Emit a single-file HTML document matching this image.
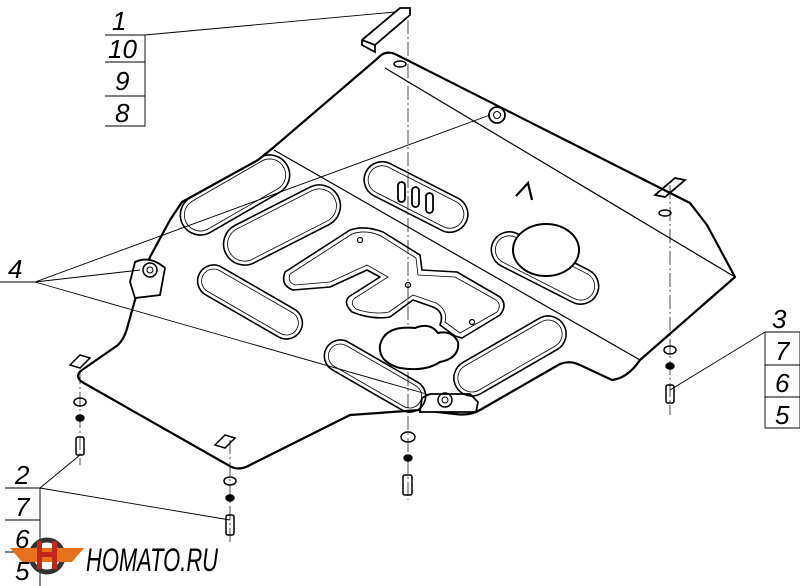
<!DOCTYPE html>
<html><head><meta charset="utf-8"><style>
html,body{margin:0;padding:0;background:#fff;width:800px;height:586px;overflow:hidden}
svg{display:block}
text{font-family:"Liberation Sans",sans-serif;font-style:italic;fill:#000}
</style></head><body>
<svg width="800" height="586" viewBox="0 0 800 586" xmlns="http://www.w3.org/2000/svg">
<defs>
<clipPath id="pl"><path d="M378,58 Q385,50 395,54 L690,203 L707,225 L735,277 L640,360 Q628,378 612,380 L580,365 Q570,360 560,364 L480,410 Q470,416 455,414 L420,410 L350,415 L250,465 Q238,472 228,465 L82,382 Q74,376 82,370 L118,345 Q125,338 128,325 L135,300 Q140,285 150,257 L170,220 L182,202 L258,160 L274,147 Z"/></clipPath>
</defs>
<g fill="none" stroke="#000">
<line x1="408" y1="20" x2="408" y2="500" stroke-width="0.7" stroke-dasharray="14 3 2 3"/>
<line x1="670" y1="185" x2="670" y2="415" stroke-width="0.7" stroke-dasharray="14 3 2 3"/>
<line x1="80" y1="370" x2="80" y2="465" stroke-width="0.7" stroke-dasharray="14 3 2 3"/>
<line x1="230" y1="440" x2="230" y2="545" stroke-width="0.7" stroke-dasharray="14 3 2 3"/>

<path stroke-width="2.2" stroke-linejoin="round" d="M378,58 Q385,50 395,54 L690,203 L707,225 L735,277 L640,360 Q628,378 612,380 L580,365 Q570,360 560,364 L480,410 Q470,416 455,414 L420,410 L350,415 L250,465 Q238,472 228,465 L82,382 Q74,376 82,370 L118,345 Q125,338 128,325 L135,300 Q140,285 150,257 L170,220 L182,202 L258,160 L274,147 Z"/>
<path stroke-width="1.2" d="M385,68 L735,277 M274,150 L640,360"/>
<!-- left tab -->
<path stroke-width="1.8" fill="#fff" d="M130,282 L135,262 Q150,255 165,268 L160,295 L135,298 Z"/>
<circle cx="150" cy="270" r="7" stroke-width="1.5"/><circle cx="150" cy="270" r="3" stroke-width="1"/>
<!-- bottom tab -->
<path stroke-width="1.8" fill="#fff" d="M420,412 L422,398 L430,394 L470,394 L478,402 L476,412 Z"/>
<circle cx="445" cy="400" r="7" stroke-width="1.5"/><circle cx="445" cy="400" r="3" stroke-width="1"/>
<circle cx="497" cy="115" r="8" stroke-width="1.8"/><circle cx="497" cy="115" r="3.5" stroke-width="1"/>
<g stroke-width="1.6">
<g clip-path="url(#pl)">
<rect x="-60" y="-20" width="120" height="40" rx="20" transform="translate(235,195) rotate(-30)"/>
<rect x="-56" y="-16" width="112" height="32" rx="16" transform="translate(235,195) rotate(-30)" stroke-width="0.8"/>
</g>
<rect x="-63" y="-21" width="126" height="42" rx="21" transform="translate(282,225) rotate(-27)"/>
<rect x="-59" y="-17" width="118" height="34" rx="17" transform="translate(282,225) rotate(-27)" stroke-width="0.8"/>
<rect x="-58" y="-16" width="116" height="32" rx="16" transform="translate(250,302) rotate(30)"/>
<rect x="-54" y="-12" width="108" height="24" rx="12" transform="translate(250,302) rotate(30)" stroke-width="0.8"/>
<rect x="-56" y="-18" width="112" height="36" rx="18" transform="translate(416,197) rotate(27)"/>
<rect x="-52" y="-14" width="104" height="28" rx="14" transform="translate(416,197) rotate(27)" stroke-width="0.8"/>
<rect x="-58" y="-18" width="116" height="36" rx="18" transform="translate(545,268) rotate(27)"/>
<rect x="-54" y="-14" width="108" height="28" rx="14" transform="translate(545,268) rotate(27)" stroke-width="0.8"/>
<rect x="-62" y="-18" width="124" height="36" rx="18" transform="translate(510,356) rotate(-30)"/>
<rect x="-58" y="-14" width="116" height="28" rx="14" transform="translate(510,356) rotate(-30)" stroke-width="0.8"/>
<rect x="-56" y="-16" width="112" height="32" rx="16" transform="translate(375,376) rotate(30)"/>
<rect x="-52" y="-12" width="104" height="24" rx="12" transform="translate(375,376) rotate(30)" stroke-width="0.8"/>
<!-- E shape -->
<path stroke-linejoin="round" d="M293,290 Q280,285 285,272 L350,230 Q365,225 383,232 L420,255 L422,270 L457,272 L500,297 Q508,305 500,315 L462,338 L455,336 L440,325 Q445,312 433,307 L413,300 L390,317 Q372,320 352,312 Q342,302 350,296 L380,277 L367,270 L330,287 Z"/>
<path stroke-width="0.8" stroke-linejoin="round" d="M295,285 Q287,282 290,274 L352,234 Q366,229 381,236 L416,258 L418,275 L455,277 L496,300 Q502,305 497,312 L460,333 L445,322 Q448,310 436,303 L413,295 L389,312 Q373,315 356,309 Q349,303 355,298 L388,277 L367,265 L330,282 Z"/>
</g>
<ellipse cx="546" cy="250" rx="33" ry="26" stroke-width="2" fill="#fff"/>
<path stroke-width="2" fill="#fff" d="M380,345 Q385,325 415,328 Q430,322 438,333 Q452,330 458,342 Q460,358 440,362 Q425,372 400,368 Q378,362 380,345Z"/>
<rect x="398" y="182" width="7" height="20" rx="3.5" stroke-width="1.8"/>
<rect x="412" y="187" width="7" height="20" rx="3.5" stroke-width="1.8"/>
<rect x="426" y="193" width="7" height="20" rx="3.5" stroke-width="1.8"/>
<path stroke-width="2.2" d="M516,196 L528,183 L532,200"/>
<ellipse cx="400" cy="64" rx="6" ry="3" stroke-width="1.5"/>
<ellipse cx="665" cy="213" rx="6" ry="3" stroke-width="1.5"/>
<circle cx="360" cy="240" r="2.5" stroke-width="1.2"/>
<circle cx="472" cy="322" r="2.5" stroke-width="1.2"/>
<circle cx="408" cy="285" r="2.5" stroke-width="1.2"/>
<path stroke-width="1.8" d="M362,40 L400,8 L410,8 L410,15 L375,45 L375,52 L362,45 Z M362,40 L375,45"/>
<path stroke-width="1.8" d="M655,195 L675,178 L685,180 L665,197 Z"/>
<path stroke-width="1.5" d="M70,365 L80,355 L90,358 L80,368 Z M215,445 L225,435 L235,438 L225,448 Z"/>
<g stroke-width="1.5">
<ellipse cx="670" cy="350" rx="6" ry="4"/><ellipse cx="670" cy="366" rx="4" ry="3" fill="#000"/>
<rect x="666" y="385" width="8" height="18" rx="2"/>
<ellipse cx="80" cy="402" rx="6" ry="4"/><ellipse cx="80" cy="418" rx="4" ry="3" fill="#000"/>
<rect x="76" y="437" width="8" height="18" rx="2"/>
<ellipse cx="408" cy="437" rx="7" ry="5"/><ellipse cx="408" cy="458" rx="4" ry="3" fill="#000"/>
<rect x="403" y="475" width="9" height="20" rx="2"/>
<ellipse cx="230" cy="481" rx="6" ry="4"/><ellipse cx="230" cy="498" rx="4" ry="3" fill="#000"/>
<rect x="226" y="515" width="8" height="20" rx="2"/>
</g>
<g stroke-width="0.9">
<path d="M105,35 L145,35 L395,12 M105,62 L145,62 M105,96 L145,96 M105,126 L145,126 L145,35"/>
<path d="M0,282 L35,282 L490,115 M35,282 L140,270 M35,282 L430,395"/>
<path d="M765,332 L800,332 M765,365 L800,365 M765,397 L800,397 M765,428 L800,428 L800,332 M765,428 L765,332 M765,332 L670,390"/>
<path d="M5,488 L40,488 L80,455 M40,488 L230,520 M5,520 L40,520 M5,552 L40,552 M40,488 L40,586"/>
</g>
</g>
<g font-size="26">
<text x="112" y="30">1</text><text x="108" y="58">10</text><text x="115" y="90">9</text><text x="115" y="122">8</text>
<text x="8" y="278">4</text>
<text x="772" y="328">3</text><text x="775" y="360">7</text><text x="775" y="392">6</text><text x="775" y="424">5</text>
<text x="15" y="484">2</text><text x="15" y="516">7</text><text x="15" y="548">6</text><text x="15" y="580">5</text>
</g>
<g>
<circle cx="47" cy="556" r="16" fill="none" stroke="#333" stroke-width="5"/>
<path d="M10,548 L84,548 L72,562 L22,562 Z" fill="#e8701a"/>
<rect x="37" y="541" width="5" height="28" fill="#c0261c"/><rect x="52" y="541" width="5" height="28" fill="#c0261c"/>
<rect x="37" y="552" width="20" height="5" fill="#c0261c"/>
<text x="86" y="571" font-size="32" textLength="132" lengthAdjust="spacingAndGlyphs">HOMATO.RU</text>
</g>
</svg>
</body></html>
